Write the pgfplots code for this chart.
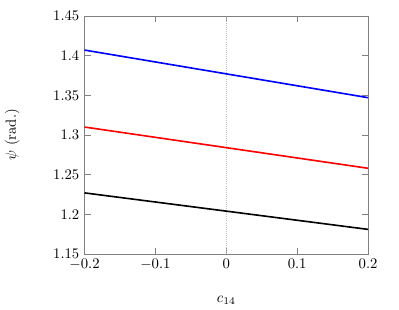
\documentclass[border=0pt]{standalone}
\usepackage{pgfplots}
\pgfplotsset{compat=1.18}
\begin{document}
\begin{tikzpicture}
\begin{axis}[
  scale only axis,
  width=193pt, height=162pt,
  xmin=-0.2, xmax=0.2, ymin=1.15, ymax=1.45,
  xtick={-0.2,-0.1,0,0.1,0.2},
  ytick={1.15,1.2,1.25,1.3,1.35,1.4,1.45},
  yticklabel style={/pgf/number format/fixed, /pgf/number format/precision=2},
  xticklabel style={/pgf/number format/fixed},
  axis line style={gray},
  tick style={gray},
  xlabel={$c_{14}$},
  ylabel={$\psi$ (rad.)},
  xlabel style={yshift=-11pt},
  ylabel style={yshift=16pt},
  clip=false,
]
\addplot[gray!50, densely dotted, forget plot] coordinates {(0,1.15) (0,1.45)};
\addplot[blue, line width=1.1pt] coordinates {(-0.2,1.407) (0.2,1.347)};
\addplot[red, line width=1.1pt] coordinates {(-0.2,1.310) (0.2,1.258)};
\addplot[black, line width=1.1pt] coordinates {(-0.2,1.227) (0.2,1.181)};
\path (rel axis cs:-0.296,-0.230) rectangle (rel axis cs:1.109,1.067);
\end{axis}
\end{tikzpicture}
\end{document}
